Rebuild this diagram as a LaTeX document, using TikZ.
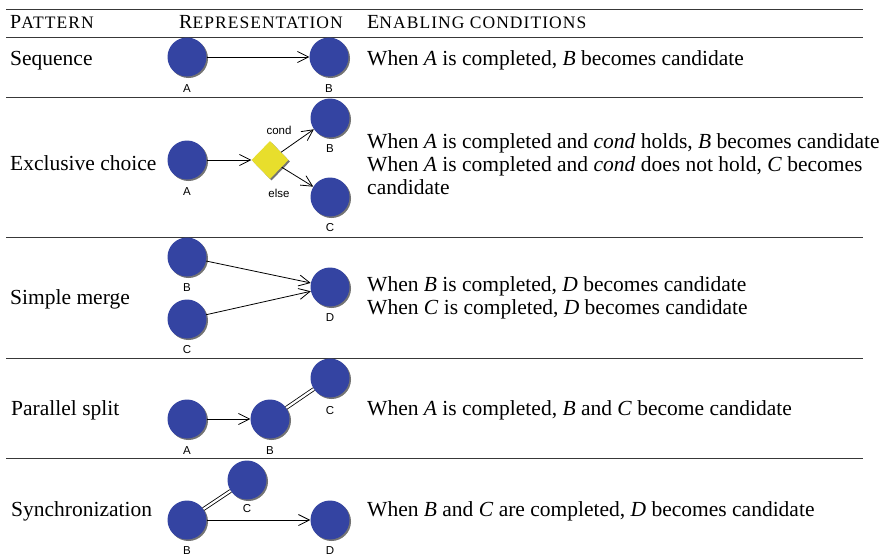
\documentclass[tikz,border=0pt]{standalone}
\usepackage{fontspec}
\setmainfont{Liberation Serif}
\newfontfamily\labelfont{Liberation Sans}
\usetikzlibrary{shapes.geometric,shadows,arrows.meta}
\definecolor{taskblue}{RGB}{52,68,162}
\definecolor{gateyellow}{RGB}{232,222,44}
% hand-made small capitals: first letter full size, the rest smaller and spaced
\newcommand{\fakesc}[2]{{\fontsize{20}{20}\selectfont #1}{\fontsize{17.5}{17.5}\selectfont\addfontfeature{LetterSpace=6}#2}}
\begin{document}
\begin{tikzpicture}[x=1pt,y=-1pt,
  shade/.style={drop shadow={shadow xshift=1.5pt,shadow yshift=-1.5pt,opacity=0.55,fill=black}},
  task/.style={circle,fill=taskblue,minimum size=39pt,inner sep=0pt,shade},
  gate/.style={diamond,fill=gateyellow,minimum width=37pt,minimum height=38pt,inner sep=0pt,shade},
  lbl/.style={font=\labelfont\fontsize{11.5}{12}\selectfont,inner sep=0pt},
  txt/.style={font=\fontsize{21.5}{24}\selectfont,inner sep=0pt,anchor=base west},
  head/.style={inner sep=0pt,anchor=base west},
  rule/.style={line width=1pt,black!78},
  flow/.style={line width=0.8pt,-{Straight Barb[length=11pt,width=11pt]}},
  par/.style={line width=0.8pt,double,double distance=2.2pt}]
\useasboundingbox (0,0) rectangle (891,557);

% table rules
\draw[rule] (6,9) -- (863,9);
\draw[rule] (6,37) -- (863,37);
\draw[rule] (6,97) -- (863,97);
\draw[rule] (6,237) -- (863,237);
\draw[rule] (6,358) -- (863,358);
\draw[rule] (6,458) -- (863,458);

% header
\node[head] (hPat) at (10,28) {\fakesc{P}{ATTERN}};
\node[head] (hRep) at (179,28) {\fakesc{R}{EPRESENTATION}};
\node[head] (hCon) at (367,28) {\fakesc{E}{NABLING CONDITIONS}};

% Sequence
\node[txt] (nSeq) at (10,65) {Sequence};
\node[task] (sA) at (187,57) {};
\node[task] (sB) at (329,57) {};
\node[lbl] (sAl) at (187,89) {A};
\node[lbl] (sBl) at (329,89) {B};
\draw[flow] (sA) -- (sB);
\node[txt] (cSeq) at (367,65) {When \textit{A} is completed, \textit{B} becomes candidate};

% Exclusive choice
\node[txt] (nExc) at (10,170) {Exclusive choice};
\node[task] (xA) at (187,160) {};
\node[gate] (xG) at (270,160) {};
\node[task] (xB) at (330,118) {};
\node[task] (xC) at (330,197) {};
\node[lbl] (xAl) at (187,192) {A};
\node[lbl] (xBl) at (330,149) {B};
\node[lbl] (xCl) at (330,228) {C};
\node[lbl] (xCond) at (279,130) {cond};
\node[lbl] (xElse) at (279,193) {else};
\draw[flow] (xA) -- (xG);
\draw[flow] (xG) -- (xB);
\draw[flow] (xG) -- (xC);
\node[txt] (cExc1) at (367,148) {When \textit{A} is completed and \textit{cond} holds, \textit{B} becomes candidate};
\node[txt] (cExc2) at (367,171) {When \textit{A} is completed and \textit{cond} does not hold, \textit{C} becomes};
\node[txt] (cExc3) at (367,194) {candidate};

% Simple merge
\node[txt] (nMrg) at (10,304) {Simple merge};
\node[task] (mB) at (187,257) {};
\node[task] (mC) at (187,319) {};
\node[task] (mD) at (330,287) {};
\node[lbl] (mBl) at (187,288) {B};
\node[lbl] (mCl) at (187,350) {C};
\node[lbl] (mDl) at (330,318) {D};
\draw[flow] (mB) -- (mD);
\draw[flow] (mC) -- (mD);
\node[txt] (cMrg1) at (367,291) {When \textit{B} is completed, \textit{D} becomes candidate};
\node[txt] (cMrg2) at (367,314) {When \textit{C} is completed, \textit{D} becomes candidate};

% Parallel split
\node[txt] (nPar) at (11,415) {Parallel split};
\node[task] (pA) at (187,419) {};
\node[task] (pB) at (270,419) {};
\node[task] (pC) at (330,378) {};
\node[lbl] (pAl) at (187,451) {A};
\node[lbl] (pBl) at (270,451) {B};
\node[lbl] (pCl) at (330,411) {C};
\draw[flow] (pA) -- (pB);
\draw[par] (pB) -- (pC);
\node[txt] (cPar) at (367,415) {When \textit{A} is completed, \textit{B} and \textit{C} become candidate};

% Synchronization
\node[txt] (nSyn) at (11,516) {Synchronization};
\node[task] (yC) at (247,480) {};
\node[task] (yB) at (187,520) {};
\node[task] (yD) at (330,520) {};
\node[lbl] (yCl) at (247,509) {C};
\node[lbl] (yBl) at (187,551) {B};
\node[lbl] (yDl) at (330,551) {D};
\draw[par] (yB) -- (yC);
\draw[flow] (yB) -- (yD);
\node[txt] (cSyn) at (367,516) {When \textit{B} and \textit{C} are completed, \textit{D} becomes candidate};
\end{tikzpicture}
\end{document}
